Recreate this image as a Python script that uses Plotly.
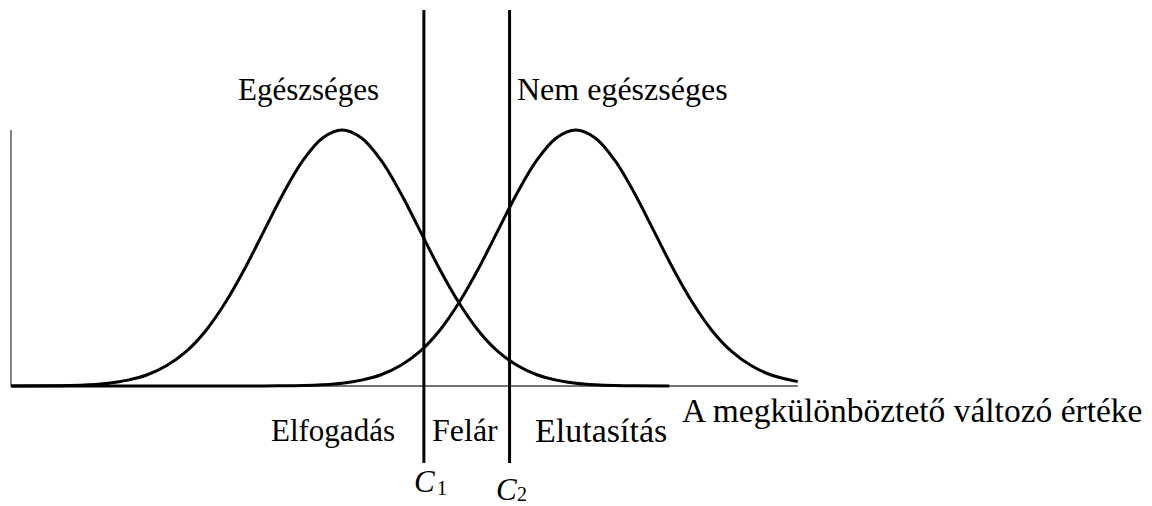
import plotly.graph_objects as go

# Data (in units of one standard deviation)
healthy_x = [-4.25, -3.75, -3.5, -3.25, -3.0, -2.75, -2.5, -2.25, -2.0, -1.75, -1.5, -1.25, -1.0, -0.75,
             -0.5, -0.25, 0.0, 0.25, 0.5, 0.75, 1.0, 1.25, 1.5, 1.75, 2.0, 2.25, 2.5, 2.75, 3.0,
             3.25, 3.5, 3.75, 4.2]
healthy_y = [0.000, 0.001, 0.002, 0.005, 0.011, 0.023, 0.044, 0.080, 0.135, 0.216, 0.325, 0.458, 0.607, 0.755,
             0.882, 0.969, 1.0, 0.969, 0.882, 0.755, 0.607, 0.458, 0.325, 0.216, 0.135, 0.080, 0.044, 0.023, 0.011,
             0.005, 0.002, 0.001, 0.000]
unhealthy_x = [-4.25, -3.0, -2.0, -1.0, -0.75, -0.5, -0.25, 0.0, 0.25, 0.5, 0.75, 1.0, 1.25, 1.5, 1.75, 2.0,
               2.25, 2.5, 2.75, 3.0, 3.25, 3.5, 3.75, 4.0, 4.25, 4.5, 4.75, 5.0, 5.25, 5.5, 5.85]
unhealthy_y = [0.000, 0.000, 0.000, 0.000, 0.001, 0.002, 0.005, 0.011, 0.023, 0.044, 0.080, 0.135, 0.216,
               0.325, 0.458, 0.607, 0.755, 0.882, 0.969, 1.0, 0.969, 0.882, 0.755, 0.607, 0.458, 0.325, 0.216,
               0.135, 0.080, 0.044, 0.017]
cutoffs = [1.05, 2.15]
cutoff_names = ["C", "C"]
cutoff_subs = ["1", "2"]
curve_labels = ["Egészséges", "Nem egészséges"]
region_labels = ["Elfogadás", "Felár", "Elutasítás"]
axis_label = "A megkülönböztető változó értéke"

W, H = 1152, 506
OFF = 8.0                     # page body margin
X0_PX, XSCALE = 11.0, 77.9    # page pixel of x=-4.25, pixels per unit
Y0_PX, YSCALE = 386.0, 256.0  # page pixel of y=0, pixels per unit
XMIN = -4.25


def dx(px):
    return XMIN + (px - X0_PX) / XSCALE


def dy(py):
    return (Y0_PX - py) / YSCALE


FONT = "Liberation Serif"
fig = go.Figure()

# axes
fig.add_trace(go.Scatter(x=[XMIN, XMIN, max(unhealthy_x)], y=[1.0, 0.0, 0.0], mode="lines",
                         line=dict(color="#444444", width=1.3), hoverinfo="skip"))
# curves
fig.add_trace(go.Scatter(x=healthy_x, y=healthy_y, mode="lines", line=dict(color="black", width=3, shape="spline"),
                         hoverinfo="skip"))
fig.add_trace(go.Scatter(x=unhealthy_x, y=unhealthy_y, mode="lines", line=dict(color="black", width=3, shape="spline"),
                         hoverinfo="skip"))
# cutoff lines
for c in cutoffs:
    fig.add_trace(go.Scatter(x=[c, c], y=[dy(10), dy(463)], mode="lines", line=dict(color="black", width=3),
                             hoverinfo="skip"))

ann = []
def txt(t, px, py, size=32, italic=False):
    ann.append(dict(text=t, x=dx(px), y=dy(py), xref="x", yref="y", showarrow=False,
                    font=dict(family=FONT, size=size, color="black", style="italic" if italic else "normal"),
                    xanchor="center", yanchor="middle"))

txt(curve_labels[0], 308, 89, size=31)
txt(curve_labels[1], 622, 89, size=32)
txt(axis_label, 912, 410, size=33.5)
txt(region_labels[0], 333, 430, size=31)
txt(region_labels[1], 465, 430, size=32)
txt(region_labels[2], 601, 430, size=34)
txt(cutoff_names[0], 424, 481, size=31, italic=True)
txt(cutoff_subs[0], 442, 488, size=20)
txt(cutoff_names[1], 506, 489, size=31, italic=True)
txt(cutoff_subs[1], 522, 494, size=20)

fig.update_layout(
    width=W, height=H, showlegend=False,
    margin=dict(l=0, r=0, t=0, b=0),
    plot_bgcolor="white", paper_bgcolor="white",
    xaxis=dict(range=[dx(OFF), dx(OFF + W)], visible=False, fixedrange=True),
    yaxis=dict(range=[dy(OFF + H), dy(OFF)], visible=False, fixedrange=True),
    annotations=ann,
)
fig.write_html("out.html")
